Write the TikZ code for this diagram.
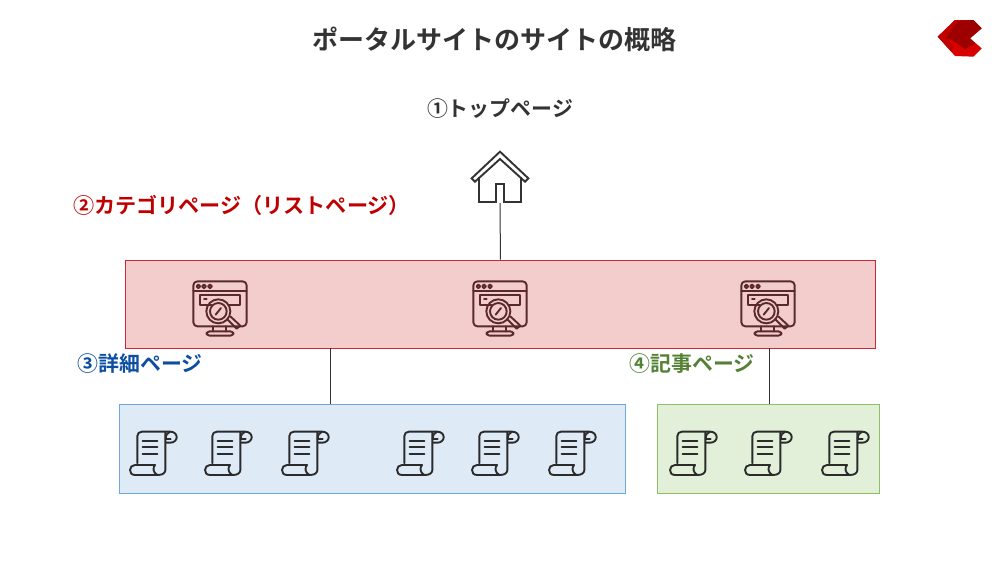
\documentclass[tikz,border=0pt]{standalone}
\usepackage{fontspec}
\setmainfont{Noto Sans CJK JP}[BoldFont={Noto Sans CJK JP Bold}]
\definecolor{ink}{HTML}{333333}
\definecolor{redt}{HTML}{C00000}
\definecolor{bluet}{HTML}{0B4EA2}
\definecolor{greent}{HTML}{538135}
\definecolor{redline}{HTML}{C8283A}
\definecolor{redfill}{HTML}{F3CCCC}
\definecolor{blueline}{HTML}{6FA8DC}
\definecolor{bluefill}{HTML}{DEEAF6}
\definecolor{greenline}{HTML}{8DBF66}
\definecolor{greenfill}{HTML}{E2EFD9}
\definecolor{webink}{HTML}{5A2A2A}
\definecolor{scrollink}{HTML}{2B2B2B}
\tikzset{
  x=1pt,y=-1pt,
  lbl/.style={font=\bfseries\fontsize{20.9}{24}\selectfont,inner sep=0pt,anchor=center},
  band/.style={line width=0.9pt,inner sep=0pt,anchor=north west},
  conn/.style={draw=ink,line width=1pt},
  iconline/.style={line width=1.9pt,line join=round,line cap=round},
  scrollicon/.pic={
    \begin{scope}[shift={(-95,-100)},iconline,draw=scrollink]
    \draw (52,130) -- (52,48) .. controls (52,40) and (58,35) .. (66,35) -- (150,35)
      .. controls (162,35) and (170,42) .. (170,52) .. controls (170,60) and (162,68) .. (152,68) -- (137,68);
    \draw (136,37) -- (136,150) .. controls (136,158) and (128,165) .. (115,165) -- (45,165)
      .. controls (34,165) and (30,158) .. (30,150) .. controls (30,142) and (36,135) .. (45,135) -- (105,135)
      .. controls (98,142) and (98,158) .. (112,165);
    \draw (150,35) .. controls (142,38) and (137,45) .. (137,58);
    \draw (137,57) -- (152,57);
    \draw[line width=2.1pt] (68,62) -- (112,62) (68,82) -- (112,82) (68,102) -- (112,102);
    \end{scope}
  },
  webicon/.pic={
    \begin{scope}[shift={(-150,-130)},iconline,draw=webink]
    \draw[rounded corners=4pt] (70,185) rectangle (230,50);
    \draw (70,80) -- (230,80);
    \foreach \u in {85,102,120} \draw (\u,65) circle (5.5);
    \draw (125,122) -- (90,122) -- (90,92) -- (210,92) -- (210,122) -- (178,122);
    \draw (102,102) -- (110,102);
    \draw (145,140) circle (36);
    \draw (145,140) circle (25);
    \draw (137,150) -- (153,130);
    \draw (172,164) -- (200,192) -- (211,183) -- (182,156);
    \draw (130,185) -- (130,200) (168,185) -- (168,200);
    \draw[rounded corners=3pt] (110,200) rectangle (190,213);
    \end{scope}
  }
}
\begin{document}
\begin{tikzpicture}
\useasboundingbox (0,0) rectangle (1000,563);
\fill[white] (0,0) rectangle (1000,563);

\node[inner sep=0pt,font=\bfseries\fontsize{26}{30}\selectfont,text=ink] (title) at (494.5,39) {ポータルサイトのサイトの概略};
\node[lbl,text=ink] (l1) at (500,109) {①トップページ};
\node[lbl,text=redt] (l2) at (241.5,205.5) {\fontsize{21.1}{24}\selectfont ②カテゴリページ（リストページ）};
\node[lbl,text=bluet] (l3) at (140,364) {③詳細ページ};
\node[lbl,text=greent] (l4) at (692,364) {④記事ページ};

% logo
\begin{scope}[shift={(925,10)},scale=1/3]
\fill[red!85!black] (38,80) -- (90,30) -- (145,30) -- (170,55) -- (135,85) -- (170,115) -- (145,140) -- (90,138) -- cycle;
\fill[red!62!black] (55,80) -- (95,32) -- (145,30) -- (170,55) -- (135,85) -- (150,100) -- (120,118) -- (85,92) -- cycle;
\fill[red!75!black] (38,80) -- (90,30) -- (100,30) -- (65,80) -- (85,110) -- (80,126) -- cycle;
\end{scope}

% boxes
\node[band,draw=redline,fill=redfill,minimum width=750pt,minimum height=88.5pt] (redbox) at (125,259.5) {};
\node[band,draw=blueline,fill=bluefill,minimum width=506.5pt,minimum height=89pt] (bluebox) at (118.5,404) {};
\node[band,draw=greenline,fill=greenfill,minimum width=222.5pt,minimum height=89pt] (greenbox) at (656.5,404) {};

% house
\coordinate (housebase) at (500,203);
\begin{scope}[shift={(460,140)},scale=1/3,line width=1.9pt,line join=miter,draw=ink]
\draw (35,115) -- (120,35) -- (205,115) -- (195,125) -- (120,57) -- (45,125) -- cycle;
\draw (58,112) -- (58,185) -- (108,185) -- (108,132) -- (133,132) -- (133,185) -- (183,185) -- (183,112);
\end{scope}

% connectors
\coordinate (redtop) at (redbox.north);
\coordinate (a1) at (330,348);
\coordinate (b1) at (330,404);
\coordinate (a2) at (769,348);
\coordinate (b2) at (769,404);
\draw[conn] (housebase) -- (redtop);
\draw[conn] (a1) -- (b1);
\draw[conn] (a2) -- (b2);

% icons
\foreach \u in {220,500,768}
  \pic[scale=1/3] at (\u,308) {webicon};
\foreach \u in {151.7,226.7,303.7,418.7,493.7,570.7,691.7,766.7,843.7}
  \pic[scale=1/3] at (\u,453.3) {scrollicon};
\end{tikzpicture}
\end{document}
